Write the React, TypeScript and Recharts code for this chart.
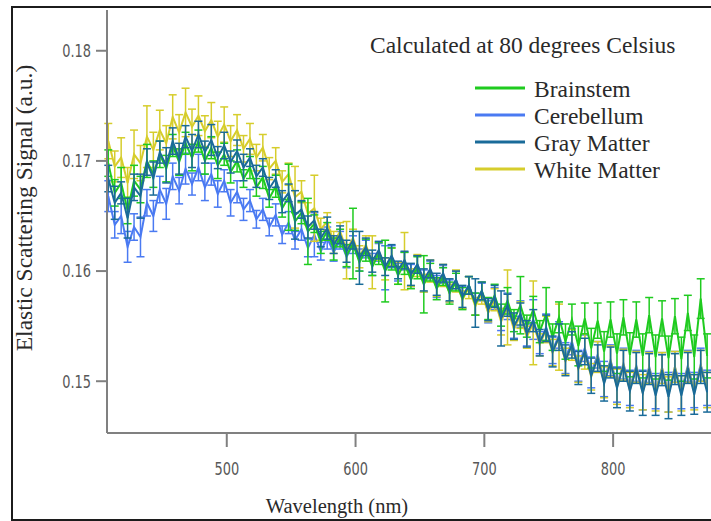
import React from "react";
import { LineChart, Line, XAxis, YAxis, ErrorBar } from "recharts";

// wavelength grid (nm)
const wavelengths = [
  408, 413, 418, 423, 428, 433, 438, 443, 448, 453,
  458, 463, 468, 473, 478, 483, 488, 493, 498, 503,
  508, 513, 518, 523, 528, 533, 538, 543, 548, 553,
  558, 563, 568, 573, 578, 583, 588, 593, 598, 603,
  608, 613, 618, 623, 628, 633, 638, 643, 648, 653,
  658, 663, 668, 673, 678, 683, 688, 693, 698, 703,
  708, 713, 718, 723, 728, 733, 738, 743, 748, 753,
  758, 763, 768, 773, 778, 783, 788, 793, 798, 803,
  808, 813, 818, 823, 828, 833, 838, 843, 848, 853,
  858, 863, 868, 873,
];

const brainstem = [
  0.1698, 0.1671, 0.168, 0.1655, 0.1682, 0.1674, 0.17, 0.1688, 0.1706, 0.1693,
  0.1714, 0.1699, 0.1716, 0.1703, 0.1718, 0.17, 0.1712, 0.1696, 0.1706, 0.169,
  0.17, 0.1684, 0.1694, 0.1676, 0.1685, 0.1666, 0.1677, 0.1657, 0.1667, 0.1645,
  0.1653, 0.1636, 0.1643, 0.1626, 0.1636, 0.162, 0.163, 0.1614, 0.1625, 0.1608,
  0.1619, 0.1604, 0.1616, 0.16, 0.1611, 0.1596, 0.1607, 0.1592, 0.1603, 0.1588,
  0.1599, 0.1584, 0.1595, 0.158, 0.159, 0.1575, 0.1587, 0.157, 0.1582, 0.1566,
  0.1578, 0.156, 0.1573, 0.1555, 0.1569, 0.155, 0.1565, 0.1545, 0.1561, 0.154,
  0.1558, 0.1536, 0.1556, 0.1532, 0.1557, 0.153, 0.1555, 0.1527, 0.1556, 0.1525,
  0.1558, 0.1524, 0.1556, 0.1523, 0.156, 0.1522, 0.1557, 0.1521, 0.1559, 0.152,
  0.1562, 0.1522, 0.1575, 0.1523,
];
const brainstemErr = [
  0.0012, 0.0012, 0.0014, 0.0012, 0.0014, 0.0012, 0.0015, 0.0012, 0.0012, 0.0012,
  0.001, 0.0012, 0.001, 0.0012, 0.001, 0.0012, 0.001, 0.0012, 0.001, 0.001,
  0.001, 0.0008, 0.001, 0.0008, 0.001, 0.0008, 0.001, 0.0008, 0.003, 0.0008,
  0.001, 0.003, 0.0008, 0.001, 0.0008, 0.001, 0.0008, 0.001, 0.0032, 0.0008,
  0.001, 0.0008, 0.001, 0.0028, 0.001, 0.0008, 0.001, 0.0008, 0.001, 0.0026,
  0.0008, 0.001, 0.0008, 0.001, 0.0008, 0.001, 0.0008, 0.001, 0.0008, 0.001,
  0.001, 0.001, 0.0012, 0.001, 0.0026, 0.001, 0.0012, 0.001, 0.0024, 0.0012,
  0.0014, 0.0016, 0.0014, 0.0018, 0.0014, 0.0018, 0.0016, 0.0018, 0.0016, 0.0018,
  0.0016, 0.002, 0.0016, 0.002, 0.0016, 0.002, 0.0016, 0.002, 0.0016, 0.002,
  0.0016, 0.002, 0.0018, 0.002,
];

const cerebellum = [
  0.1668, 0.1642, 0.165, 0.1622, 0.164, 0.1631, 0.1662, 0.165, 0.1674, 0.1661,
  0.1686, 0.1673, 0.1693, 0.1679, 0.1694, 0.1676, 0.1688, 0.167, 0.1682, 0.1662,
  0.1672, 0.1656, 0.1664, 0.1647, 0.1656, 0.164, 0.1651, 0.1633, 0.1644, 0.1628,
  0.1638, 0.1621, 0.1633, 0.1618, 0.163, 0.1617, 0.1628, 0.1613, 0.1624, 0.161,
  0.162, 0.1606, 0.1617, 0.1603, 0.1613, 0.1599, 0.1609, 0.1596, 0.1606, 0.1591,
  0.1601, 0.1586, 0.1597, 0.1582, 0.1592, 0.1576, 0.1587, 0.157, 0.1581, 0.1563,
  0.1575, 0.1556, 0.1568, 0.1549, 0.1561, 0.1542, 0.1556, 0.1535, 0.1549, 0.1528,
  0.1542, 0.1521, 0.1536, 0.1514, 0.153, 0.1508, 0.1524, 0.1502, 0.1519, 0.1497,
  0.1516, 0.1494, 0.1514, 0.1492, 0.1513, 0.1491, 0.1512, 0.149, 0.1513, 0.1491,
  0.1514, 0.1492, 0.1515, 0.1494,
];
const cerebellumErr = [
  0.0014, 0.0012, 0.0016, 0.0014, 0.0012, 0.0018, 0.0012, 0.0014, 0.0012, 0.0014,
  0.0012, 0.0012, 0.0014, 0.001, 0.0012, 0.0012, 0.001, 0.0012, 0.001, 0.0012,
  0.001, 0.001, 0.001, 0.0008, 0.001, 0.0008, 0.001, 0.0008, 0.001, 0.0008,
  0.001, 0.0008, 0.002, 0.0008, 0.001, 0.0008, 0.0008, 0.001, 0.0008, 0.001,
  0.0008, 0.001, 0.0008, 0.002, 0.001, 0.0008, 0.0008, 0.001, 0.0008, 0.001,
  0.0008, 0.001, 0.0008, 0.001, 0.0008, 0.001, 0.0008, 0.001, 0.0008, 0.001,
  0.001, 0.001, 0.0012, 0.001, 0.0012, 0.001, 0.0018, 0.001, 0.0012, 0.0012,
  0.0012, 0.0014, 0.0012, 0.0014, 0.0012, 0.0014, 0.0012, 0.0016, 0.0014, 0.0016,
  0.0014, 0.0016, 0.0014, 0.0018, 0.0014, 0.0016, 0.0014, 0.0018, 0.0014, 0.0016,
  0.0014, 0.0016, 0.0015, 0.0016,
];

const grayMatter = [
  0.1684, 0.1662, 0.1671, 0.1648, 0.1676, 0.1668, 0.1699, 0.1684, 0.1708, 0.1696,
  0.1718, 0.1702, 0.1722, 0.1709, 0.1724, 0.1708, 0.1719, 0.1703, 0.1714, 0.1699,
  0.1709, 0.1694, 0.1703, 0.1686, 0.1694, 0.1675, 0.1684, 0.1663, 0.1671, 0.1651,
  0.1656, 0.164, 0.1646, 0.163, 0.1639, 0.1624, 0.1633, 0.1618, 0.1628, 0.1612,
  0.1622, 0.1609, 0.1619, 0.1604, 0.1614, 0.1601, 0.161, 0.1597, 0.1606, 0.1592,
  0.1602, 0.1588, 0.1598, 0.1583, 0.1592, 0.1577, 0.1587, 0.1571, 0.1582, 0.1565,
  0.1577, 0.1557, 0.1569, 0.155, 0.1561, 0.1543, 0.1555, 0.1535, 0.1548, 0.1527,
  0.154, 0.1519, 0.1533, 0.1512, 0.1527, 0.1505, 0.1521, 0.1498, 0.1517, 0.1494,
  0.1514, 0.1491, 0.1512, 0.1489, 0.1511, 0.1487, 0.151, 0.1486, 0.1511, 0.1487,
  0.1512, 0.1488, 0.1513, 0.149,
];
const grayMatterErr = [
  0.0012, 0.0015, 0.001, 0.0018, 0.0012, 0.002, 0.0012, 0.0015, 0.001, 0.0016,
  0.0012, 0.0014, 0.001, 0.0015, 0.0012, 0.001, 0.0014, 0.001, 0.0012, 0.001,
  0.001, 0.0012, 0.0008, 0.001, 0.0008, 0.001, 0.0008, 0.001, 0.0008, 0.0022,
  0.0008, 0.001, 0.0008, 0.0008, 0.001, 0.0008, 0.0008, 0.001, 0.0008, 0.0024,
  0.0008, 0.001, 0.0008, 0.0008, 0.001, 0.0008, 0.0008, 0.001, 0.0008, 0.001,
  0.0008, 0.001, 0.0008, 0.001, 0.0008, 0.001, 0.0008, 0.0022, 0.0008, 0.001,
  0.001, 0.0025, 0.001, 0.0012, 0.001, 0.0012, 0.001, 0.0012, 0.0012, 0.0014,
  0.0012, 0.0014, 0.0012, 0.0015, 0.0012, 0.0016, 0.0012, 0.0016, 0.0014, 0.0018,
  0.0014, 0.0018, 0.0014, 0.002, 0.0014, 0.0018, 0.0014, 0.002, 0.0014, 0.0018,
  0.0014, 0.0018, 0.0015, 0.0018,
];

const whiteMatter = [
  0.1718, 0.1695, 0.1703, 0.168, 0.1706, 0.1698, 0.1722, 0.171, 0.1728, 0.1716,
  0.174, 0.1726, 0.1744, 0.1731, 0.1741, 0.1727, 0.1737, 0.1722, 0.1733, 0.1718,
  0.1728, 0.1711, 0.172, 0.1703, 0.1712, 0.1693, 0.17, 0.1681, 0.1688, 0.1667,
  0.1672, 0.1652, 0.1657, 0.1638, 0.1645, 0.1626, 0.1636, 0.1619, 0.163, 0.1613,
  0.1624, 0.1608, 0.1618, 0.1602, 0.1613, 0.1598, 0.1609, 0.1594, 0.1605, 0.1589,
  0.16, 0.1585, 0.1596, 0.158, 0.1591, 0.1574, 0.1585, 0.1568, 0.158, 0.1562,
  0.1574, 0.1554, 0.1567, 0.1547, 0.156, 0.154, 0.1553, 0.1533, 0.1547, 0.1526,
  0.154, 0.1518, 0.1533, 0.1511, 0.1527, 0.1504, 0.1522, 0.1499, 0.1518, 0.1495,
  0.1515, 0.1492, 0.1513, 0.149, 0.1512, 0.1489, 0.1512, 0.1488, 0.1513, 0.1489,
  0.1513, 0.149, 0.1514, 0.1492,
];
const whiteMatterErr = [
  0.0016, 0.0014, 0.0018, 0.0014, 0.0022, 0.0016, 0.0028, 0.0016, 0.0018, 0.0016,
  0.002, 0.0016, 0.0022, 0.0016, 0.0018, 0.0014, 0.0016, 0.0014, 0.0016, 0.0014,
  0.0014, 0.0012, 0.0014, 0.0012, 0.0012, 0.001, 0.0012, 0.001, 0.001, 0.0028,
  0.001, 0.001, 0.003, 0.001, 0.0008, 0.001, 0.0008, 0.0026, 0.0008, 0.001,
  0.0008, 0.0024, 0.0008, 0.001, 0.0008, 0.001, 0.0026, 0.0008, 0.001, 0.0008,
  0.001, 0.0008, 0.001, 0.0008, 0.001, 0.0008, 0.001, 0.0008, 0.001, 0.0008,
  0.001, 0.0012, 0.0034, 0.001, 0.0012, 0.001, 0.0038, 0.001, 0.0012, 0.0012,
  0.003, 0.0012, 0.0014, 0.0012, 0.0016, 0.0012, 0.0014, 0.0014, 0.0014, 0.0016,
  0.0014, 0.0016, 0.0014, 0.0016, 0.0014, 0.0016, 0.0014, 0.0016, 0.0014, 0.0016,
  0.0014, 0.0016, 0.0014, 0.0016,
];

const xTicks = [500, 600, 700, 800];
const yTicks = [0.15, 0.16, 0.17, 0.18];

// drawing order: last one on top
const series = [
  { key: "cerebellum", name: "Cerebellum", color: "#4a7af2", values: cerebellum, err: cerebellumErr },
  { key: "whiteMatter", name: "White Matter", color: "#d6cd2c", values: whiteMatter, err: whiteMatterErr },
  { key: "brainstem", name: "Brainstem", color: "#1fcb1f", values: brainstem, err: brainstemErr },
  { key: "grayMatter", name: "Gray Matter", color: "#1a6b99", values: grayMatter, err: grayMatterErr },
];
const legendOrder = ["brainstem", "cerebellum", "grayMatter", "whiteMatter"];

const rows = wavelengths.map((w, i) => {
  const r: any = { wl: w };
  series.forEach((s) => {
    r[s.key] = s.values[i];
    r[s.key + "Err"] = s.err[i];
  });
  return r;
});

const serif = "'Liberation Serif', 'Times New Roman', serif";
const condensed = "'DejaVu Sans Condensed', 'DejaVu Sans', sans-serif";
const ink = "#2a2a2a";

// tick labels in the original are a narrow sans, squeeze a condensed face a bit
const XTick = ({ x, y, payload }: any) => (
  <text
    transform={`translate(${x},${y}) scale(0.8,1)`}
    textAnchor="middle"
    dy="0.71em"
    fontFamily={condensed}
    fontSize={18}
    fill="#585858"
  >
    {payload.value}
  </text>
);

const YTick = ({ x, y, payload }: any) => (
  <text
    transform={`translate(${x},${y}) scale(0.8,1)`}
    textAnchor="end"
    dy="0.355em"
    fontFamily={condensed}
    fontSize={18}
    fill="#585858"
  >
    {Number(payload.value).toFixed(2)}
  </text>
);

export default function App() {
  return (
    <div style={{ position: "fixed", left: 0, top: 0, width: 711, height: 521, overflow: "hidden", background: "#fff" }}>
      <div
        style={{
          position: "absolute",
          left: 11,
          top: 6,
          width: 760,
          height: 515,
          border: "2px solid #1c1c1c",
          boxSizing: "border-box",
        }}
      />
      <LineChart
        width={711}
        height={521}
        data={rows}
        margin={{ top: 10, right: 0, bottom: 28, left: 47 }}
        style={{ position: "absolute", left: 0, top: 0 }}
      >
        <XAxis
          dataKey="wl"
          type="number"
          domain={[407, 876]}
          allowDataOverflow
          ticks={xTicks}
          height={60}
          tickSize={14}
          tickMargin={15}
          stroke="#808080"
          strokeWidth={2}
          tick={<XTick />}
        />
        <YAxis
          type="number"
          domain={[0.1453, 0.1837]}
          allowDataOverflow
          ticks={yTicks}
          width={60}
          tickSize={11}
          tickMargin={5}
          stroke="#808080"
          strokeWidth={2}
          tick={<YTick />}
        />
        {series.map((s) => (
          <Line
            key={s.key}
            dataKey={s.key}
            name={s.name}
            stroke={s.color}
            strokeWidth={2}
            dot={false}
            type="linear"
            isAnimationActive={false}
          >
            <ErrorBar
              dataKey={s.key + "Err"}
              direction="y"
              width={4}
              stroke={s.color}
              strokeWidth={1.5}
              isAnimationActive={false}
            />
          </Line>
        ))}
      </LineChart>
      <svg width={711} height={521} style={{ position: "absolute", left: 0, top: 0, pointerEvents: "none" }}>
        <text x={370} y={53} fontFamily={serif} fontSize={23.5} fill={ink}>
          Calculated at 80 degrees Celsius
        </text>
        {legendOrder.map((k, i) => {
          const s = series.find((x) => x.key === k)!;
          const cy = 88 + i * 27;
          return (
            <g key={k}>
              <line x1={475} x2={525} y1={cy} y2={cy} stroke={s.color} strokeWidth={3} />
              <text x={534} y={cy + 9} fontFamily={serif} fontSize={23.5} fill={ink}>
                {s.name}
              </text>
            </g>
          );
        })}
        <text x={337} y={513} fontFamily={serif} fontSize={20.5} fill={ink} textAnchor="middle">
          Wavelength (nm)
        </text>
        <text
          transform="translate(32,208) rotate(-90)"
          fontFamily={serif}
          fontSize={23.5}
          fill={ink}
          textAnchor="middle"
        >
          Elastic Scattering Signal (a.u.)
        </text>
      </svg>
    </div>
  );
}
